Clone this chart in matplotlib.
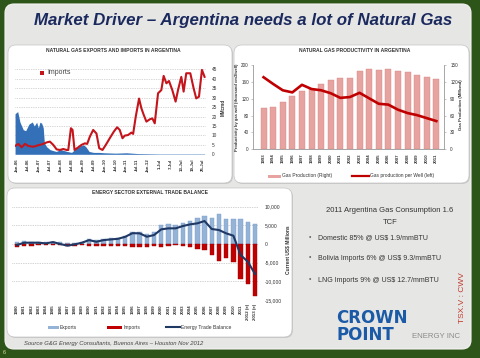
import numpy as np
import matplotlib.pyplot as plt
from matplotlib.patches import FancyBboxPatch, Rectangle
from matplotlib.ticker import FuncFormatter

plt.rcParams["font.family"] = ["Liberation Sans", "DejaVu Sans"]

# ---- panel 1: gas exports / imports (MMcmd), x in tick-label units
tick_labels1 = ["Jan-06", "Jul-06", "Jan-07", "Jul-07", "Jan-08", "Jul-08", "Jan-09", "Jul-09",
                "Jan-10", "Jul-10", "Jan-11", "Jul-11", "Jan-12", "1-Jul", "7-Jul", "13-Jul",
                "19-Jul", "25-Jul"]
imp_x = [-0.15, 0.15, 0.45, 0.76, 1.06, 1.52, 1.97, 2.42, 2.73, 3.03, 3.33, 3.64, 3.94, 4.24, 4.55,
         4.70, 4.94, 5.09, 5.27, 5.61, 5.91, 6.21, 6.42, 6.67, 6.97, 7.27, 7.52, 7.82, 8.12, 8.48,
         8.85, 9.15, 9.39, 9.64, 9.85, 10.15, 10.45, 10.61, 10.85, 11.15, 11.36, 11.58, 11.82, 12.12,
         12.36, 12.58, 12.88, 13.18, 13.39, 13.64, 13.88, 14.18, 14.48, 14.70, 15.00, 15.21, 15.45,
         15.82, 16.12, 16.36, 16.61, 16.88, 17.12]
imp_y = [4.4, 5.5, 3.7, 5.5, 4.4, 4.0, 4.8, 5.5, 6.3, 6.7, 5.0, 2.6, 2.3, 2.8, 2.3,
         2.3, 13.8, 12.9, 2.3, 3.7, 5.0, 5.8, 5.5, 9.4, 12.9, 11.0, 3.2, 2.3, 5.0, 8.5,
         12.0, 14.3, 12.9, 8.5, 9.9, 10.2, 11.5, 10.8, 20.0, 29.5, 24.4, 20.8, 17.3, 18.5,
         19.0, 16.4, 32.3, 34.0, 41.5, 37.6, 38.8, 34.0, 27.9, 34.0, 41.0, 33.2, 42.9,
         42.9, 35.0, 29.6, 30.5, 44.7, 41.0]
exp_x = [-0.15, 0.09, 0.3, 0.6, 0.82, 1.12, 1.42, 1.6, 1.82, 1.97, 2.12, 2.27, 2.42, 2.52, 2.73,
         3.03, 3.3, 3.6, 4.0, 4.3, 4.6, 5.0, 5.5, 5.8, 6.1, 6.3, 6.6, 7.0, 7.5, 8.0, 9.0, 10.0,
         10.5, 11.0, 12.0, 13.0, 17.12]
exp_y = [21.5, 22.6, 17, 13, 12.5, 16, 17.1, 15, 17, 14, 17, 16.5, 14, 6, 4,
         2.5, 2, 1.5, 2.5, 2, 1.5, 1, 3.5, 4.5, 5, 4, 1.5, 1, 1, 0.8, 0.6, 0.8,
         0.6, 0.4, 0.3, 0.2, 0.2]

# ---- panel 2: productivity
years2 = [1993, 1994, 1995, 1996, 1997, 1998, 1999, 2000, 2001, 2002,
          2003, 2004, 2005, 2006, 2007, 2008, 2009, 2010, 2011]
gas_prod = [73, 76, 84, 95, 103, 107, 116, 123, 126, 126, 139, 143, 141, 142, 139, 137, 132, 129, 125]
per_well = [171, 155, 140, 135, 153, 143, 140, 133, 122, 124, 134, 121, 108, 106, 94, 86, 81, 74, 67]

# ---- panel 3: energy trade balance (US$ millions)
years3 = ["1980", "1981", "1982", "1983", "1984", "1985", "1986", "1987", "1988", "1989",
          "1990", "1991", "1992", "1993", "1994", "1995", "1996", "1997", "1998", "1999",
          "2000", "2001", "2002", "2003", "2004", "2005", "2006", "2007", "2008", "2009",
          "2010", "2011", "2012 (e)", "2013 (e)"]
exports = [450, 800, 450, 450, 535, 625, 450, 180, 360, 625,
           1340, 980, 1250, 1520, 1700, 2230, 3300, 3300, 2590, 3130,
           5090, 5270, 5090, 5540, 6250, 7050, 7590, 7050, 8040, 6600,
           6600, 6700, 5980, 5270]
imports = [-700, -500, -400, -300, -300, -300, -200, -500, -400, -300,
           -400, -400, -400, -500, -500, -600, -700, -800, -700, -600,
           -700, -600, -300, -400, -700, -1340, -1600, -2950, -4460, -3840,
           -4730, -9500, -10700, -13840]
balance = [-260, 350, 350, 350, 175, 525, 0, -440, -90, 350,
           1050, 600, 1050, 1230, 1400, 1930, 2900, 2860, 1960, 2400,
           3930, 4200, 4200, 4820, 5270, 5540, 6160, 4020, 3750, 2860,
           2230, -2950, -4730, -8040]

W, H = 480, 358
fig = plt.figure(figsize=(4.8, 3.58), dpi=100)
fig.patch.set_facecolor('#2d5519')


def rect(x0, y0, x1, y1):
    return [x0 / W, 1 - y1 / H, (x1 - x0) / W, (y1 - y0) / H]


bg = fig.add_axes([0, 0, 1, 1])
bg.set_xlim(0, W)
bg.set_ylim(H, 0)
bg.axis('off')

bg.add_patch(FancyBboxPatch((5, 4), 466, 345, boxstyle='round,pad=0,rounding_size=9',
                            fc='#e6e6e4', ec='#f4f4f2', lw=0.8))
for (x0, y0, x1, y1) in [(8, 45, 232, 183), (234, 45, 469, 183), (7, 188, 292, 337)]:
    bg.add_patch(FancyBboxPatch((x0 + 1, y0 + 1), x1 - x0, y1 - y0,
                                boxstyle='round,pad=0,rounding_size=8', fc='#c9c9c9', ec='none'))
    bg.add_patch(FancyBboxPatch((x0, y0), x1 - x0, y1 - y0,
                                boxstyle='round,pad=0,rounding_size=8', fc='white', ec='#c4c4c4', lw=0.5))

bg.text(243, 21, "Market Driver \u2013 Argentina needs a lot of Natural Gas", ha='center', va='center',
        fontsize=12.2, fontweight='bold', fontstyle='italic', color='#1b2a5e')

tc = '#333333'
bg.text(113, 51, "NATURAL GAS EXPORTS AND IMPORTS IN ARGENTINA", ha='center', va='center',
        fontsize=3.6, fontweight='bold', color=tc)
bg.text(355, 51, "NATURAL GAS PRODUCTIVITY IN ARGENTINA", ha='center', va='center',
        fontsize=3.6, fontweight='bold', color=tc)
bg.text(150, 193, "ENERGY SECTOR EXTERNAL TRADE BALANCE", ha='center', va='center',
        fontsize=3.6, fontweight='bold', color=tc)

# ---------------- panel 1
ax1 = fig.add_axes(rect(14.5, 69.3, 206, 154.3))
ax1.patch.set_alpha(0)
ax1.fill_between(exp_x, exp_y, color='#3470b8', lw=0)
ax1.plot(imp_x, imp_y, color='#c4141c', lw=1.5)
ax1.set_xlim(-0.2, 17.25)
ax1.set_ylim(0, 45)
ax1.set_yticks(np.arange(0, 50, 5))
ax1.yaxis.tick_right()
ax1.yaxis.grid(True, linestyle=(0, (1, 1.5)), color='#b0b0b0', lw=0.5)
ax1.set_axisbelow(True)
ax1.set_xticks(range(len(tick_labels1)))
ax1.set_xticklabels(tick_labels1, rotation=90, fontsize=3.2, color=tc, fontweight='bold')
ax1.tick_params(axis='y', length=0, pad=4, labelsize=3.4, labelcolor=tc)
ax1.tick_params(axis='x', length=0, pad=3)
for s in ax1.spines.values():
    s.set_visible(False)
bg.text(223, 107, "MMcmd", rotation=90, ha='center', va='center', fontsize=3.3,
        fontweight='bold', color=tc)
bg.add_patch(Rectangle((40, 71), 4, 4, fc='#c4141c', ec='none'))
bg.text(47, 73, "Imports", ha='left', va='center', fontsize=5, color='#444444')

# ---------------- panel 2  (bars on the right scale, line on the left scale)
ax2 = fig.add_axes(rect(253, 65, 444, 149.3))
ax2.bar(years2, gas_prod, width=0.62, color='#e6a3a0', edgecolor='#d58985', lw=0.3)
ax2.set_xlim(1991.9, 2011.8)
ax2.set_ylim(0, 150)
ax2.set_yticks(np.arange(0, 151, 30))
ax2.set_xticks(years2)
ax2.set_xticklabels([str(y) for y in years2], rotation=90, fontsize=3.2, color=tc, fontweight='bold')
ax2.tick_params(axis='x', length=0, pad=3)
ax2b = ax2.twinx()
ax2b.plot(years2, per_well, color='#c00000', lw=1.9)
ax2b.set_ylim(0, 200)
ax2b.set_yticks(np.arange(0, 201, 40))
ax2b.yaxis.tick_left()
ax2.yaxis.tick_right()          # twinx() moved these to the left; put them back
ax2.tick_params(axis='y', length=1.5, width=0.4, pad=3, labelsize=3.3, colors='#999999')
ax2.tick_params(axis='y', labelcolor=tc)
ax2b.tick_params(axis='y', length=1.5, width=0.4, pad=1.5, labelsize=3.3, colors='#999999')
ax2b.tick_params(axis='y', labelcolor=tc)
for a in (ax2, ax2b):
    a.spines['top'].set_visible(False)
    for k in ('left', 'right', 'bottom'):
        a.spines[k].set_color('#a0a0a0')
        a.spines[k].set_linewidth(0.5)
bg.text(237, 107, "Productivity by gas well (thousand cm3/well)", rotation=90, ha='center',
        va='center', fontsize=3.0, fontweight='bold', color=tc)
bg.text(461, 105, "Gas Production (MMcmd)", rotation=90, ha='center', va='center',
        fontsize=3.1, fontweight='bold', color=tc)
bg.add_patch(Rectangle((268, 174.5), 13, 3, fc='#e6a3a0', ec='none'))
bg.text(282, 176, "Gas Production (Right)", ha='left', va='center', fontsize=3.5, color=tc)
bg.plot([352, 369], [176, 176], color='#c00000', lw=1.6)
bg.text(370, 176, "Gas production per Well (left)", ha='left', va='center', fontsize=3.5, color=tc)

# ---------------- panel 3
x3 = np.arange(len(years3))
ax3 = fig.add_axes(rect(12, 206.7, 259, 300))
ax3.patch.set_alpha(0)
ax3.bar(x3, exports, width=0.62, color='#95b3d7', edgecolor='#7c9dc6', lw=0.3)
ax3.bar(x3, imports, width=0.62, color='#c00000', edgecolor='#9c0000', lw=0.3)
ax3.plot(x3, balance, color='#1f3864', lw=1.5)
ax3.set_xlim(-0.69, 33.55)
ax3.set_ylim(-15000, 10000)
ax3.set_yticks(np.arange(-15000, 10001, 5000))
ax3.yaxis.set_major_formatter(FuncFormatter(lambda v, p: f"{int(v):,}"))
ax3.yaxis.tick_right()
ax3.yaxis.grid(True, linestyle=(0, (1, 1.5)), color='#a8a8a8', lw=0.5)
ax3.set_axisbelow(True)
ax3.set_xticks(x3)
ax3.set_xticklabels(years3, rotation=90, fontsize=3.2, color=tc, fontweight='bold')
ax3.tick_params(axis='y', length=0, pad=4, labelsize=3.6, labelcolor=tc)
ax3.tick_params(axis='x', length=0, pad=3)
for s in ax3.spines.values():
    s.set_visible(False)
bg.text(288, 250, "Current US$ Millions", rotation=90, ha='center', va='center',
        fontsize=3.5, fontweight='bold', color=tc)
bg.add_patch(Rectangle((48, 325.5), 11, 3, fc='#95b3d7', ec='none'))
bg.text(60, 327, "Exports", ha='left', va='center', fontsize=3.6, color=tc)
bg.add_patch(Rectangle((107, 325.5), 15, 3, fc='#c00000', ec='none'))
bg.text(123, 327, "Imports", ha='left', va='center', fontsize=3.6, color=tc)
bg.plot([166, 180], [327, 327], color='#1f3864', lw=1.5)
bg.text(181, 327, "Energy Trade Balance", ha='left', va='center', fontsize=3.6, color=tc)

# ---------------- right-hand text and logo
bg.text(390, 210, "2011 Argentina Gas Consumption 1.6", ha='center', va='center',
        fontsize=5.5, color=tc)
bg.text(390, 222, "TCF", ha='center', va='center', fontsize=5.5, color=tc)
bullets = ["Domestic 85% @ US$ 1.9/mmBTU", "Bolivia Imports 6% @ US$ 9.3/mmBTU",
           "LNG Imports 9% @ US$ 12.7/mmBTU"]
for yy, b in zip([238, 258, 280], bullets):
    bg.text(310, yy, "\u2022", ha='center', va='center', fontsize=5, color='#666666')
    bg.text(318, yy, b, ha='left', va='center', fontsize=5, color=tc)
bg.text(463, 298, "TSX.V : CWV", rotation=90, ha='center', va='center', fontsize=6,
        color='#c0392b')
bg.text(336, 326.5, "CROWN\nPOINT", ha='left', va='center', fontsize=12, fontweight='bold',
        color='#1a5aa6', family=['DejaVu Sans'], linespacing=0.88)
bg.text(412, 336, "ENERGY INC", ha='left', va='center', fontsize=5.6, color='#8a8a8a')

bg.text(24, 343, "Source G&G Energy Consultants, Buenos Aires \u2013 Houston Nov 2012",
        ha='left', va='center', fontsize=4.2, fontstyle='italic', color='#444444')
bg.text(3, 353, "6", ha='left', va='center', fontsize=4, color='#d8e4a0')

fig.savefig("out.png", dpi=100, facecolor=fig.get_facecolor())
